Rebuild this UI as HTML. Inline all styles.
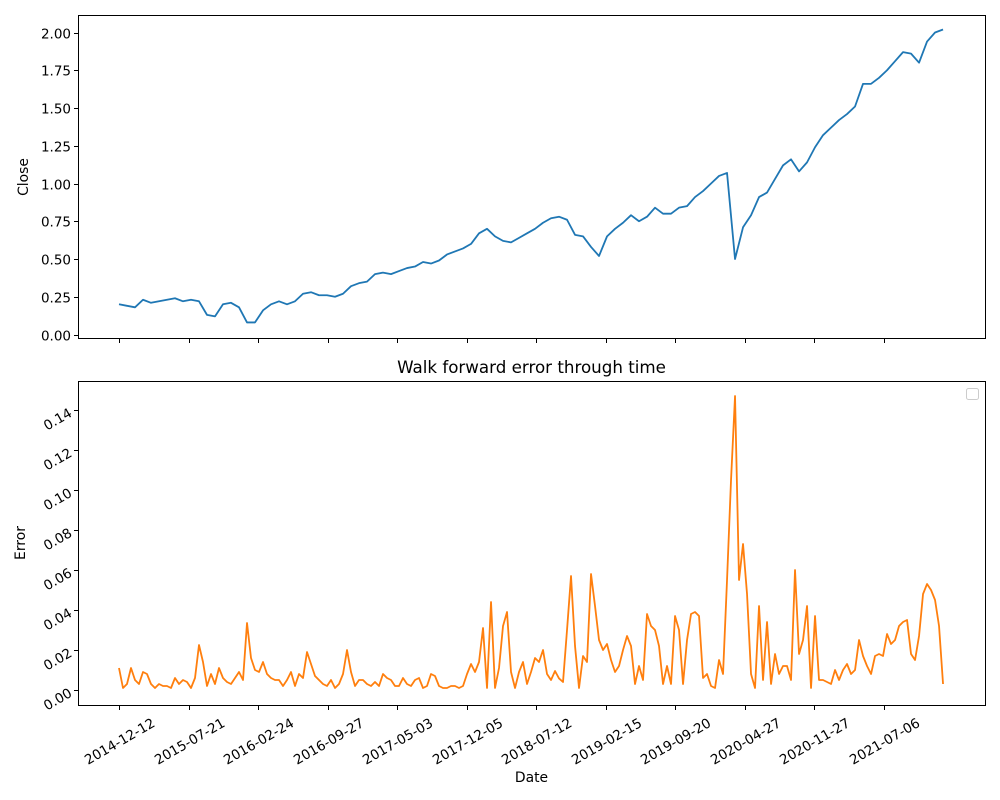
<!DOCTYPE html>
<html><head><meta charset="utf-8"><style>
html,body{margin:0;padding:0;background:#fff;}
svg{display:block;font-family:"DejaVu Sans","Liberation Sans",sans-serif;}
</style></head><body>
<svg id="chart" width="1000" height="800" viewBox="0 0 1000 800" xmlns="http://www.w3.org/2000/svg">
<rect width="1000" height="800" fill="#fff"/>
<g id="topPanel"></g>
<g id="botPanel"></g>
</svg>
<script>
const tickLabels = ["2014-12-12","2015-07-21","2016-02-24","2016-09-27","2017-05-03","2017-12-05","2018-07-12","2019-02-15","2019-09-20","2020-04-27","2020-11-27","2021-07-06"];
const tickDays = [0,221,442,663,884,1105,1326,1547,1768,1989,2210,2431];
const closeStepDays = 25.44;
const errorStepDays = 12.72;
const closeValues = [0.20,0.19,0.18,0.23,0.21,0.22,0.23,0.24,0.22,0.23,0.22,0.13,0.12,0.20,0.21,0.18,0.08,0.08,0.16,0.20,0.22,0.20,0.22,0.27,0.28,0.26,0.26,0.25,0.27,0.32,0.34,0.35,0.40,0.41,0.40,0.42,0.44,0.45,0.48,0.47,0.49,0.53,0.55,0.57,0.60,0.67,0.70,0.65,0.62,0.61,0.64,0.67,0.70,0.74,0.77,0.78,0.76,0.66,0.65,0.58,0.52,0.65,0.70,0.74,0.79,0.75,0.78,0.84,0.80,0.80,0.84,0.85,0.91,0.95,1.00,1.05,1.07,0.50,0.71,0.79,0.91,0.94,1.03,1.12,1.16,1.08,1.14,1.24,1.32,1.37,1.42,1.46,1.51,1.66,1.66,1.70,1.75,1.81,1.87,1.86,1.80,1.94,2.00,2.02];
const errorValues = [0.011,0.001,0.003,0.011,0.005,0.003,0.009,0.008,0.003,0.001,0.003,0.002,0.002,0.001,0.006,0.003,0.005,0.004,0.001,0.006,0.0225,0.014,0.002,0.008,0.003,0.011,0.006,0.004,0.003,0.006,0.009,0.005,0.0335,0.016,0.010,0.009,0.014,0.008,0.006,0.005,0.005,0.002,0.005,0.009,0.002,0.008,0.006,0.019,0.013,0.007,0.005,0.003,0.002,0.005,0.001,0.003,0.008,0.020,0.009,0.002,0.005,0.005,0.003,0.002,0.004,0.002,0.008,0.006,0.005,0.002,0.002,0.006,0.003,0.002,0.005,0.006,0.001,0.002,0.008,0.007,0.002,0.001,0.001,0.002,0.002,0.001,0.002,0.008,0.013,0.009,0.014,0.031,0.001,0.044,0.001,0.011,0.032,0.039,0.009,0.001,0.009,0.014,0.003,0.009,0.016,0.014,0.020,0.008,
0.005,0.0095,0.0058,0.004,0.030,0.057,0.022,0.001,0.017,0.014,0.058,0.042,0.025,0.020,0.023,0.015,0.009,0.012,0.020,0.027,0.022,0.003,0.012,0.005,0.038,0.032,0.030,0.022,0.003,0.012,0.003,0.037,0.030,0.003,0.025,0.038,0.039,0.037,0.006,0.008,0.002,0.001,0.015,0.008,0.055,0.105,0.147,0.055,0.073,0.048,0.008,0.001,0.042,0.005,0.034,0.003,0.018,0.008,0.012,0.012,0.005,0.060,0.018,0.025,0.042,0.001,0.037,0.005,0.005,0.004,0.003,0.010,0.005,0.010,0.013,0.008,0.010,0.025,0.017,0.012,0.008,0.017,0.018,0.017,0.028,0.023,0.025,0.032,0.034,0.035,0.018,0.015,0.027,0.048,0.053,0.050,0.045,0.032,0.003];
const closeTicks = [0,0.25,0.5,0.75,1,1.25,1.5,1.75,2];
const errorTicks = [0,0.02,0.04,0.06,0.08,0.1,0.12,0.14];

const NS = "http://www.w3.org/2000/svg";
const X0 = 119, PX_PER_DAY = 69.5/221;
const FL = 78.5, FR = 985.5;
function xScale(d){ return X0 + d*PX_PER_DAY; }
function yClose(v){ return 334.5 - v*151; }
function yErr(v){ return 690 - v*2000; }
function mk(parent, tag, attrs){ const e=document.createElementNS(NS,tag); for(const k in attrs) e.setAttribute(k,attrs[k]); parent.appendChild(e); return e; }

const topG = document.getElementById('topPanel');
const botG = document.getElementById('botPanel');

let d = closeValues.map((v,i)=>(i?'L':'M')+xScale(i*closeStepDays).toFixed(2)+','+yClose(v).toFixed(2)).join('');
let ln = mk(topG,'path',{d:d,fill:'none',stroke:'#1f77b4','stroke-width':1.8,'stroke-linejoin':'round'});



d = errorValues.map((v,i)=>(i?'L':'M')+xScale(i*errorStepDays).toFixed(2)+','+yErr(v).toFixed(2)).join('');
ln = mk(botG,'path',{d:d,fill:'none',stroke:'#ff7f0e','stroke-width':1.8,'stroke-linejoin':'round'});



let fr = mk(topG,'rect',{x:FL,y:15.5,width:FR-FL,height:323,fill:'none',stroke:'#000','stroke-width':1});


fr = mk(botG,'rect',{x:FL,y:381.5,width:FR-FL,height:324,fill:'none',stroke:'#000','stroke-width':1});



tickDays.forEach((td,i)=>{
  const x = Math.round(xScale(td))+0.5;
  let t = mk(topG,'line',{x1:x,x2:x,y1:338.5,y2:343,stroke:'#000'});
  
  
  t = mk(botG,'line',{x1:x,x2:x,y1:705.5,y2:710,stroke:'#000'});
  
  
  const tx = mk(botG,'text',{x:x,y:746,'font-size':13.5,'text-anchor':'middle',transform:`rotate(-30 ${x} 741)`,fill:'#000'});
  tx.textContent = tickLabels[i];
  
  
});

closeTicks.forEach(v=>{
  const y = Math.round(yClose(v))+0.5;
  let t = mk(topG,'line',{x1:74,x2:FL,y1:y,y2:y,stroke:'#000'});
  
  
  const tx = mk(topG,'text',{x:71,y:y+5,'font-size':13.5,'text-anchor':'end',fill:'#000'});
  tx.textContent = v.toFixed(2);
  
  
});
errorTicks.forEach(v=>{
  const y = Math.round(yErr(v))+0.5;
  let t = mk(botG,'line',{x1:74,x2:FL,y1:y,y2:y,stroke:'#000'});
  
  
  const tx = mk(botG,'text',{x:70,y:y+6,'font-size':13.5,'text-anchor':'end',transform:`rotate(-30 70 ${y})`,fill:'#000'});
  tx.textContent = v.toFixed(2);
  
  
});

let lb = mk(topG,'text',{x:28,y:177,'font-size':13.9,'text-anchor':'middle',transform:'rotate(-90 28 177)'});
lb.textContent='Close';


lb = mk(botG,'text',{x:25,y:543,'font-size':13.9,'text-anchor':'middle',transform:'rotate(-90 25 543)'});
lb.textContent='Error';


lb = mk(botG,'text',{x:531.5,y:782,'font-size':13.9,'text-anchor':'middle'});
lb.textContent='Date';


lb = mk(botG,'text',{x:531.5,y:373,'font-size':16.7,'text-anchor':'middle'});
lb.textContent='Walk forward error through time';


lb = mk(botG,'rect',{x:966.5,y:388.5,width:12,height:11,rx:2,fill:'#fff',stroke:'#ccc'});


</script>
</body></html>
